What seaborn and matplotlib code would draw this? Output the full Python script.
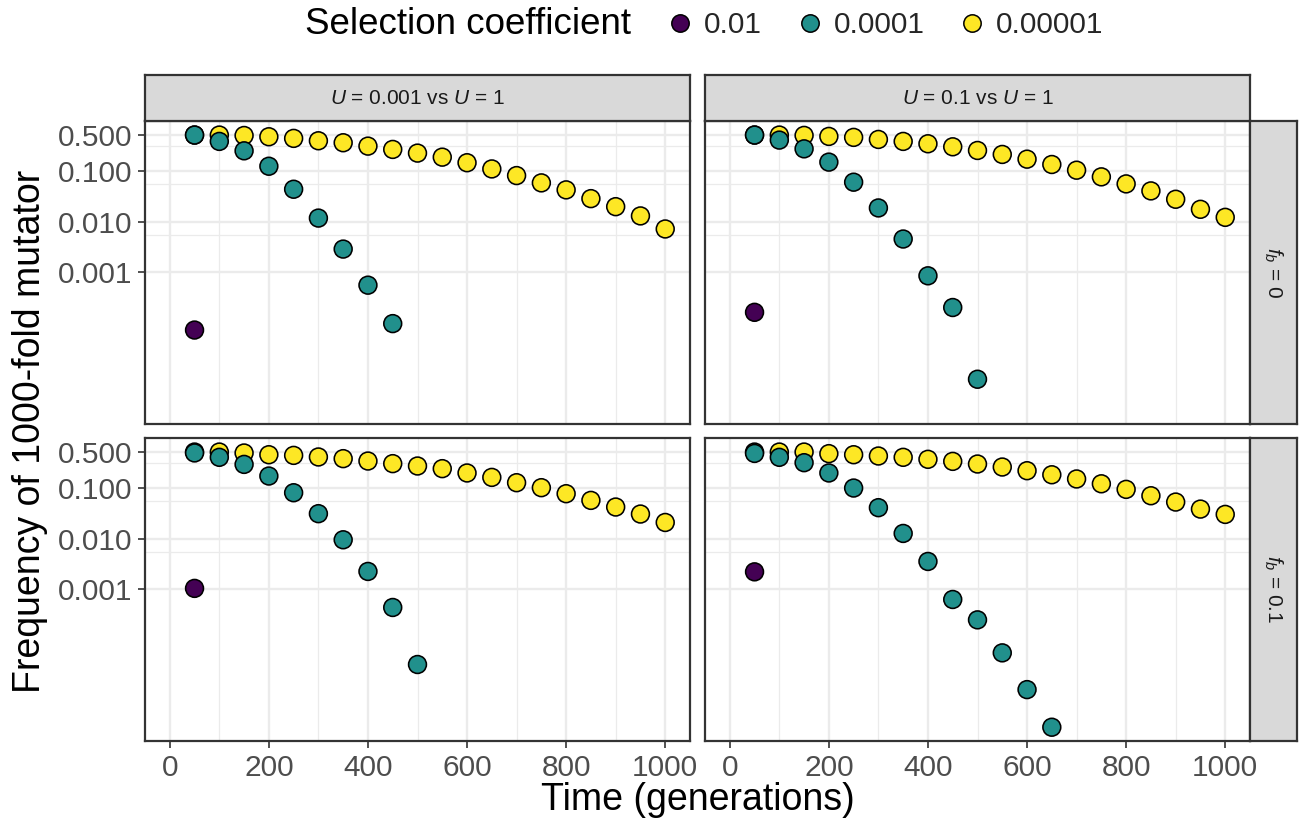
import numpy as np
import pandas as pd
import matplotlib
matplotlib.use("Agg")
import matplotlib.pyplot as plt
import seaborn as sns
from matplotlib.lines import Line2D

# ---------------- data ----------------
col_labels = [r"$U$ = 0.001 vs $U$ = 1", r"$U$ = 0.1 vs $U$ = 1"]
row_labels = [r"$f_b$ = 0", r"$f_b$ = 0.1"]
sel_levels = ["0.01", "0.0001", "0.00001"]
sel_colors = ["#440154", "#21908C", "#FDE725"]

time_full = [50, 100, 150, 200, 250, 300, 350, 400, 450, 500,
             550, 600, 650, 700, 750, 800, 850, 900, 950, 1000]
time_purple = [50]

# top-left: U=0.001 vs U=1, f_b=0
yellow_tl = [0.50, 0.50, 0.49, 0.463, 0.430, 0.386, 0.353, 0.303, 0.261, 0.221,
             0.184, 0.143, 0.108, 0.080, 0.0575, 0.0419, 0.0282, 0.0196, 0.0129, 0.00715]
time_teal_tl = [50, 100, 150, 200, 250, 300, 350, 400, 450]
teal_tl = [0.50, 0.375, 0.245, 0.122, 0.0431, 0.0117, 0.00288, 0.000563, 0.000099]
purple_tl = [7.4e-5]

# top-right: U=0.1 vs U=1, f_b=0
yellow_tr = [0.50, 0.50, 0.492, 0.470, 0.450, 0.410, 0.375, 0.337, 0.294, 0.249,
             0.208, 0.168, 0.132, 0.102, 0.0755, 0.0549, 0.0400, 0.0274, 0.0174, 0.0121]
time_teal_tr = [50, 100, 150, 200, 250, 300, 350, 400, 450, 500]
teal_tr = [0.50, 0.398, 0.268, 0.147, 0.0593, 0.0185, 0.00454, 0.00086, 0.000205, 8.0e-6]
purple_tr = [1.65e-4]

# bottom-left: U=0.001 vs U=1, f_b=0.1
yellow_bl = [0.50, 0.50, 0.479, 0.443, 0.430, 0.400, 0.371, 0.333, 0.296, 0.266,
             0.236, 0.194, 0.159, 0.125, 0.0998, 0.0760, 0.0562, 0.0416, 0.0303, 0.0207]
time_teal_bl = [50, 100, 150, 200, 250, 300, 350, 400, 450, 500]
teal_bl = [0.48, 0.394, 0.286, 0.169, 0.0794, 0.0308, 0.00946, 0.00226, 0.000443, 3.36e-5]
purple_bl = [1.05e-3]

# bottom-right: U=0.1 vs U=1, f_b=0.1
yellow_br = [0.50, 0.50, 0.50, 0.465, 0.443, 0.418, 0.394, 0.360, 0.328, 0.291,
             0.254, 0.215, 0.179, 0.148, 0.119, 0.0925, 0.0693, 0.0521, 0.0379, 0.0298]
time_teal_br = [50, 100, 150, 200, 250, 300, 350, 400, 450, 500, 550, 600, 650]
teal_br = [0.47, 0.394, 0.309, 0.194, 0.0982, 0.0404, 0.0126, 0.00355, 0.000636,
           0.000253, 5.69e-5, 1.08e-5, 1.97e-6]
purple_br = [2.22e-3]

y_major = [0.001, 0.01, 0.1, 0.5]
y_major_labels = ["0.001", "0.010", "0.100", "0.500"]
y_minor = [0.0055, 0.055, 0.3]
x_major = [0, 200, 400, 600, 800, 1000]
x_minor = [100, 300, 500, 700, 900]

# ---------------- long data frame ----------------
panels = {
    (0, 0): (yellow_tl, time_teal_tl, teal_tl, purple_tl),
    (0, 1): (yellow_tr, time_teal_tr, teal_tr, purple_tr),
    (1, 0): (yellow_bl, time_teal_bl, teal_bl, purple_bl),
    (1, 1): (yellow_br, time_teal_br, teal_br, purple_br),
}
rows = []
for (r, c), (yv, tt, tv, pv) in panels.items():
    for t, v in zip(time_full, yv):
        rows.append((r, c, "0.00001", t, v))
    for t, v in zip(tt, tv):
        rows.append((r, c, "0.0001", t, v))
    for t, v in zip(time_purple, pv):
        rows.append((r, c, "0.01", t, v))
df = pd.DataFrame(rows, columns=["row", "col", "selection", "time", "freq"])

# ---------------- style ----------------
sns.set_theme(style="white")
plt.rcParams["font.family"] = ["Liberation Sans", "DejaVu Sans"]
plt.rcParams["mathtext.fontset"] = "custom"
plt.rcParams["mathtext.it"] = "Liberation Sans:italic"
plt.rcParams["mathtext.rm"] = "Liberation Sans"

W, H = 1304, 827
fig = plt.figure(figsize=(W / 100, H / 100), dpi=100)
fig.patch.set_facecolor("white")

def px_axes(x0, y0, x1, y1):
    return fig.add_axes([x0 / W, 1 - y1 / H, (x1 - x0) / W, (y1 - y0) / H])

col_x = [(145, 690), (705, 1250)]
row_y = [(121.3, 424), (438.3, 741)]
palette = dict(zip(sel_levels, sel_colors))
border = "#333333"
ylim = (10 ** -5.976, 10 ** -0.031)

for r in range(2):
    for c in range(2):
        x0, x1 = col_x[c]
        y0, y1 = row_y[r]
        ax = px_axes(x0, y0, x1, y1)
        sub = df[(df.row == r) & (df.col == c)]
        sns.scatterplot(data=sub, x="time", y="freq", hue="selection", palette=palette,
                        s=165, edgecolor="black", linewidth=1.15, ax=ax, legend=False,
                        zorder=3)
        ax.set_yscale("log")
        ax.set_ylim(*ylim)
        ax.set_xlim(-50, 1050)
        ax.set_yticks(y_major)
        ax.set_yticks(y_minor, minor=True)
        ax.set_xticks(x_major)
        ax.set_xticks(x_minor, minor=True)
        ax.yaxis.set_minor_formatter(matplotlib.ticker.NullFormatter())
        ax.xaxis.set_minor_formatter(matplotlib.ticker.NullFormatter())
        ax.grid(True, which="major", color="#EBEBEB", linewidth=1.7)
        ax.grid(True, which="minor", color="#EBEBEB", linewidth=0.9)
        ax.set_axisbelow(True)
        for sp in ax.spines.values():
            sp.set_color(border)
            sp.set_linewidth(1.6)
        ax.set_xlabel("")
        ax.set_ylabel("")
        ax.tick_params(which="minor", length=0)
        ax.tick_params(which="major", length=5, width=1.2, color=border,
                       labelsize=21.5, labelcolor="#4D4D4D", pad=4)
        if c == 0:
            ax.set_yticklabels(y_major_labels)
            ax.tick_params(axis="y", left=True, labelleft=True)
        else:
            ax.tick_params(axis="y", left=False, labelleft=False)
        if r == 1:
            ax.tick_params(axis="x", bottom=True, labelbottom=True)
        else:
            ax.tick_params(axis="x", bottom=False, labelbottom=False)

# strips
for c in range(2):
    x0, x1 = col_x[c]
    sax = px_axes(x0, 74.7, x1, 121.3)
    sax.set_facecolor("#D9D9D9")
    sax.set_xticks([]); sax.set_yticks([])
    for sp in sax.spines.values():
        sp.set_color(border); sp.set_linewidth(1.6)
    sax.text(0.5, 0.5, col_labels[c], ha="center", va="center", fontsize=15,
             color="#1A1A1A", transform=sax.transAxes)
for r in range(2):
    y0, y1 = row_y[r]
    sax = px_axes(1250, y0, 1297, y1)
    sax.set_facecolor("#D9D9D9")
    sax.set_xticks([]); sax.set_yticks([])
    for sp in sax.spines.values():
        sp.set_color(border); sp.set_linewidth(1.6)
    sax.text(0.5, 0.5, row_labels[r], ha="center", va="center", fontsize=15,
             color="#1A1A1A", rotation=-90, transform=sax.transAxes)

# axis titles
fig.text(697.5 / W, 1 - 800 / H, "Time (generations)", ha="center", va="center",
         fontsize=27, color="black")
fig.text(30 / W, 1 - 431 / H, "Frequency of 1000-fold mutator", ha="center",
         va="center", rotation=90, fontsize=27, color="black")

# legend
fig.text(305 / W, 1 - 25 / H, "Selection coefficient", ha="left", va="center",
         fontsize=26.5, color="black")
handles = [Line2D([], [], marker="o", linestyle="", markersize=12.5,
                  markerfacecolor=col, markeredgecolor="black", markeredgewidth=1.1)
           for col in sel_colors]
fig.legend(handles, sel_levels, ncol=3, loc="center left",
           bbox_to_anchor=(662 / W, 1 - 25 / H), frameon=False, fontsize=21.5,
           handletextpad=0.2, columnspacing=1.0, handlelength=1.2,
           borderaxespad=0, borderpad=0)

fig.savefig("out.png", dpi=100, facecolor="white")
